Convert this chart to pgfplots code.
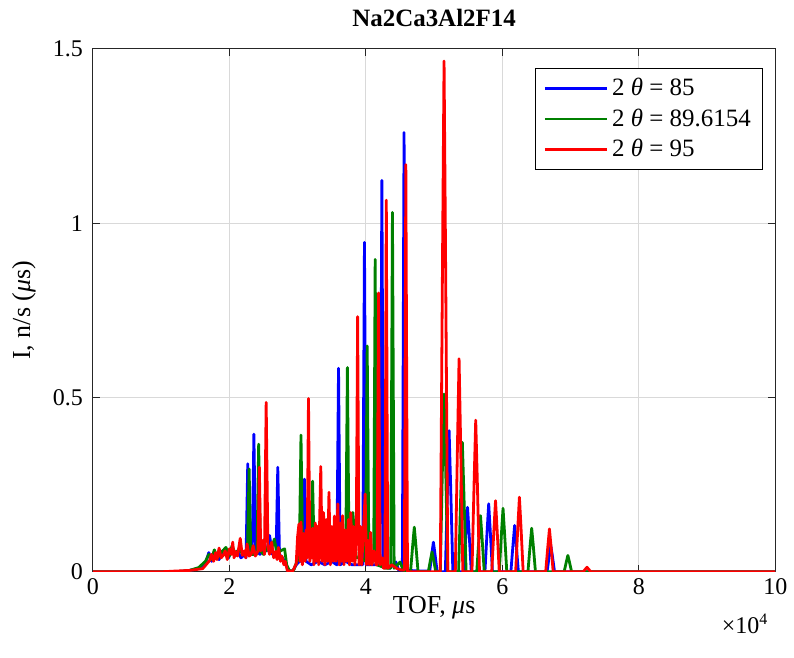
\documentclass[border=0pt]{standalone}
\usepackage{fontspec}
\setmainfont{Liberation Serif}
\usepackage{pgfplots}
\pgfplotsset{compat=1.18}
\definecolor{mblue}{rgb}{0,0,1}
\definecolor{mgreen}{rgb}{0,0.5,0}
\definecolor{mred}{rgb}{1,0,0}
\begin{document}
\begin{tikzpicture}
\begin{axis}[
  scale only axis, width=342pt, height=262pt,
  xmin=0, xmax=10, ymin=0, ymax=1.5,
  xtick={0,2,4,6,8,10}, ytick={0,0.5,1,1.5},
  /pgf/number format/assume math mode=true,
  tick label style={font=\fontsize{12}{14}\selectfont},
  yticklabel style={xshift=-1.5pt},
  tick align=inside, major tick length=3.5pt,
  grid=major, grid style={draw=black!15, line width=0.5pt},
  axis line style={draw=black!85, line width=0.5pt},
  every tick/.style={draw=black!85, line width=0.5pt},
  title={\textbf{Na2Ca3Al2F14}},
  title style={font=\fontsize{12.5}{15}\selectfont, at={(axis description cs:0.5,1)}, anchor=base, yshift=5pt},
  xlabel={TOF, \textit{μ}s},
  ylabel={I, n/s (\textit{μ}s)},
  label style={font=\fontsize{13}{15}\selectfont},
  xlabel style={at={(axis description cs:0.5,0)}, anchor=base, yshift=-21pt},
  ylabel style={at={(axis description cs:-0.101,0.5)}, anchor=center},
  legend style={at={(axis description cs:1,1)}, anchor=north east, xshift=-6pt, yshift=-9.5pt,
    draw=black, line width=0.6pt, fill=white, font=\fontsize{12.5}{15}\selectfont,
    row sep=1pt, inner xsep=4pt, inner ysep=3pt},
  legend cell align=left,
  legend image code/.code={\draw[#1] (0pt,0pt) -- (31pt,0pt);},
  every axis plot/.append style={line width=1.4pt, line join=round},
]
% 2theta = 85
\addplot[mblue] coordinates {
(0,0)(1.2,0)(1.4,0.003)(1.55,0.01)(1.65,0.025)(1.70,0.055)(1.74,0.03)(1.80,0.05)(1.85,0.035)(1.90,0.06)(1.95,0.065)(1.99,0.04)(2.04,0.07)(2.08,0.045)(2.12,0.06)(2.17,0.04)(2.23,0.05)
(2.245,0.04)(2.27,0.31)(2.295,0.05)
(2.335,0.05)(2.36,0.395)(2.385,0.06)
(2.45,0.05)(2.5,0.07)(2.55,0.06)(2.59,0.104)(2.63,0.05)
(2.685,0.05)(2.71,0.30)(2.735,0.05)
(2.78,0.04)(2.83,0.02)(2.87,0.003)(2.93,0.002)(2.98,0.02)(3.03,0.03)
(3.075,0.03)(3.10,0.266)(3.125,0.03)
(3.2,0.02)(3.3,0.03)(3.4,0.02)(3.5,0.03)
(3.575,0.02)(3.60,0.584)(3.625,0.02)
(3.7,0.03)(3.8,0.02)(3.9,0.02)
(3.955,0.02)(3.98,0.945)(4.005,0.02)
(4.1,0.02)
(4.21,0.02)(4.235,1.123)(4.26,0.02)
(4.35,0.01)(4.44,0.028)(4.48,0.005)
(4.535,0.005)(4.56,1.26)(4.585,0.005)
(4.7,0.003)(4.8,0.002)(4.9,0.002)
(4.935,0)(4.968,0.053)(4.99,0.085)(5.012,0.053)(5.045,0)
(5.165,0)(5.198,0.251)(5.22,0.405)(5.242,0.251)(5.275,0)
(5.435,0)(5.468,0.115)(5.49,0.185)(5.512,0.115)(5.545,0)
(5.745,0)(5.778,0.121)(5.80,0.195)(5.822,0.121)(5.855,0)
(6.125,0)(6.158,0.082)(6.18,0.133)(6.202,0.082)(6.235,0)
(6.655,0)(6.688,0.047)(6.71,0.075)(6.732,0.047)(6.765,0)
(7.0,0)(10,0)
};
\addlegendentry{2 \textit{θ} = 85}
% 2theta = 89.6154
\addplot[mgreen] coordinates {
(0,0)(1.2,0)(1.4,0.003)(1.55,0.012)(1.65,0.03)(1.70,0.05)(1.74,0.035)(1.78,0.063)(1.83,0.04)(1.88,0.055)(1.95,0.07)(2.0,0.045)(2.04,0.075)(2.09,0.05)(2.14,0.065)(2.2,0.05)
(2.265,0.05)(2.29,0.295)(2.315,0.05)
(2.405,0.05)(2.43,0.366)(2.455,0.06)
(2.5,0.05)(2.56,0.07)(2.61,0.06)(2.66,0.094)(2.7,0.05)(2.75,0.06)(2.81,0.066)(2.84,0.02)(2.88,0.003)(2.94,0.003)(2.99,0.03)
(3.025,0.04)(3.05,0.392)(3.075,0.04)
(3.13,0.07)
(3.195,0.04)(3.22,0.26)(3.245,0.04)
(3.3,0.05)(3.4,0.06)(3.46,0.04)(3.51,0.118)(3.56,0.04)(3.64,0.05)
(3.705,0.04)(3.73,0.586)(3.755,0.04)
(3.81,0.17)(3.86,0.04)(3.93,0.04)
(3.995,0.03)(4.02,0.648)(4.045,0.03)(4.1,0.03)
(4.115,0.03)(4.137,0.896)(4.16,0.02)
(4.3,0.01)
(4.365,0.01)(4.39,1.031)(4.415,0.01)
(4.5,0.028)(4.55,0.005)(4.62,0)
(4.655,0)(4.688,0.079)(4.71,0.128)(4.732,0.079)(4.765,0)
(4.915,0)(4.948,0.035)(4.97,0.057)(4.992,0.035)(5.025,0)
(5.091,0)(5.124,0.316)(5.146,0.51)(5.168,0.316)(5.201,0)
(5.359,0)(5.392,0.23)(5.414,0.371)(5.436,0.23)(5.469,0)
(5.625,0)(5.658,0.10)(5.68,0.161)(5.702,0.10)(5.735,0)
(5.955,0)(5.988,0.113)(6.01,0.182)(6.032,0.113)(6.065,0)
(6.375,0)(6.408,0.078)(6.43,0.125)(6.452,0.078)(6.485,0)
(6.905,0)(6.938,0.029)(6.96,0.047)(6.982,0.029)(7.015,0)
(7.2,0)(10,0)
};
\addlegendentry{2 \textit{θ} = 89.6154}
% 2theta = 95
\addplot[mred] coordinates {
(0,0)(1.0,0)(1.2,0.002)(1.42,0.004)(1.61,0.009)(1.71,0.032)(1.74,0.05)(1.77,0.03)(1.80,0.055)(1.82,0.035)(1.85,0.068)(1.88,0.04)(1.91,0.047)(1.94,0.06)(1.97,0.035)(2.0,0.066)(2.03,0.05)(2.05,0.085)(2.07,0.04)(2.09,0.058)(2.12,0.045)(2.16,0.096)(2.19,0.047)(2.22,0.06)(2.24,0.04)(2.26,0.08)(2.29,0.045)(2.32,0.05)(2.35,0.075)(2.38,0.045)
(2.42,0.06)(2.44,0.30)(2.46,0.06)(2.49,0.09)
(2.515,0.05)(2.54,0.486)(2.565,0.07)
(2.59,0.05)(2.62,0.085)(2.65,0.04)(2.68,0.058)(2.70,0.035)(2.72,0.07)(2.75,0.03)(2.77,0.045)(2.80,0.02)(2.82,0.03)(2.85,0.003)(2.93,0.002)(2.98,0.023)
(3.00,0.10)(3.02,0.137)(3.035,0.03)(3.05,0.143)(3.07,0.02)(3.09,0.11)(3.11,0.03)(3.125,0.12)(3.14,0.04)(3.16,0.497)(3.18,0.03)(3.20,0.11)(3.21,0.04)(3.22,0.125)(3.24,0.02)(3.26,0.14)(3.275,0.03)(3.29,0.13)(3.31,0.02)(3.34,0.302)(3.36,0.03)(3.38,0.17)(3.40,0.02)(3.42,0.15)(3.44,0.03)(3.46,0.228)(3.48,0.02)(3.50,0.13)(3.52,0.03)(3.54,0.16)(3.56,0.03)(3.59,0.195)(3.61,0.02)(3.63,0.14)(3.645,0.03)(3.66,0.161)(3.68,0.02)(3.70,0.12)(3.72,0.03)(3.745,0.15)(3.76,0.02)(3.78,0.17)(3.80,0.03)(3.82,0.13)(3.84,0.02)(3.86,0.10)
(3.88,0.732)(3.90,0.02)(3.92,0.13)(3.94,0.02)(3.965,0.12)(3.99,0.223)(4.01,0.02)(4.03,0.09)(4.05,0.02)(4.07,0.113)(4.09,0.02)(4.12,0.06)(4.15,0.02)
(4.165,0.02)(4.186,0.80)(4.21,0.02)(4.24,0.04)(4.26,0.01)
(4.28,0.01)(4.30,1.066)(4.32,0.01)(4.38,0.02)(4.45,0.01)(4.52,0.005)
(4.565,0.005)(4.586,1.168)(4.61,0)
(4.8,0)(5.05,0)
(5.091,0)(5.124,0.908)(5.146,1.465)(5.168,0.908)(5.201,0)
(5.311,0)(5.344,0.379)(5.366,0.611)(5.388,0.379)(5.421,0)
(5.555,0)(5.588,0.27)(5.61,0.435)(5.632,0.27)(5.665,0)
(5.845,0)(5.878,0.126)(5.90,0.204)(5.922,0.126)(5.955,0)
(6.195,0)(6.228,0.133)(6.25,0.214)(6.272,0.133)(6.305,0)
(6.635,0)(6.668,0.076)(6.69,0.123)(6.712,0.076)(6.745,0)
(7.185,0)(7.218,0.008)(7.24,0.013)(7.262,0.008)(7.295,0)
(10,0)
};
\addlegendentry{2 \textit{θ} = 95}
\end{axis}
\node[anchor=base east, font=\fontsize{12}{14}\selectfont] at ([yshift=-31pt]current axis.south east) {×10\textsuperscript{4}};
\path ([shift={(-46.5pt,-43pt)}]current axis.south west) rectangle ([shift={(8.5pt,24.5pt)}]current axis.north east);
\end{tikzpicture}
\end{document}
